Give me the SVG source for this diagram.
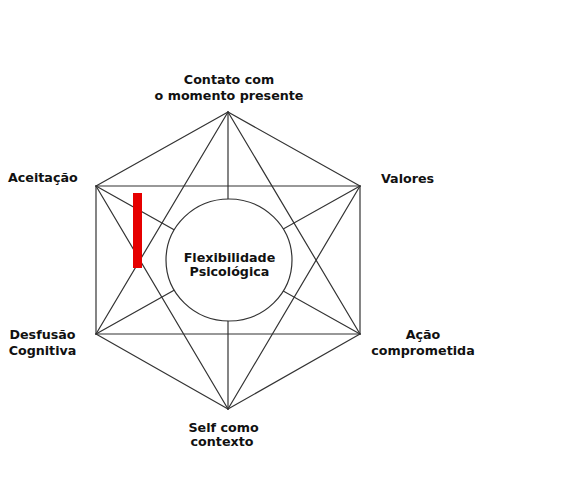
<svg xmlns="http://www.w3.org/2000/svg" width="571" height="502" viewBox="0 0 571 502">
<style>
.ln{stroke:#333;stroke-width:1.2;fill:none;stroke-linecap:round}
.lbl{font-family:"DejaVu Sans",Verdana,sans-serif;font-weight:bold;font-size:12.7px;fill:#111}
</style>
<rect width="571" height="502" fill="#fff"/>
<g id="connectors" class="ln">
<line x1="228" y1="112" x2="96" y2="186"/>
<line x1="228" y1="112" x2="360" y2="186"/>
<line x1="228" y1="112" x2="96" y2="334"/>
<line x1="228" y1="112" x2="360" y2="334"/>
<line x1="228" y1="112" x2="228" y2="409"/>
<line x1="96" y1="186" x2="360" y2="186"/>
<line x1="96" y1="186" x2="96" y2="334"/>
<line x1="96" y1="186" x2="360" y2="334"/>
<line x1="96" y1="186" x2="228" y2="409"/>
<line x1="360" y1="186" x2="96" y2="334"/>
<line x1="360" y1="186" x2="360" y2="334"/>
<line x1="360" y1="186" x2="228" y2="409"/>
<line x1="96" y1="334" x2="360" y2="334"/>
<line x1="96" y1="334" x2="228" y2="409"/>
<line x1="360" y1="334" x2="228" y2="409"/>
</g>
<g id="center">
<ellipse cx="229" cy="260" rx="63" ry="61" fill="#fff" stroke="#333" stroke-width="1.2"/>
<text class="lbl" text-anchor="middle" x="229.5" y="261.5">Flexibilidade</text>
<text class="lbl" text-anchor="middle" x="229.5" y="275.5">Psicológica</text>
</g>
<g id="marker">
<rect x="133" y="193" width="9" height="75" fill="#e60000"/>
</g>
<g id="contato">
<text class="lbl" text-anchor="middle" x="229" y="83.5">Contato com</text>
<text class="lbl" text-anchor="middle" x="229" y="99.5">o momento presente</text>
</g>
<g id="aceitacao">
<text class="lbl" x="8" y="182">Aceitação</text>
</g>
<g id="valores">
<text class="lbl" x="381" y="182.5">Valores</text>
</g>
<g id="desfusao">
<text class="lbl" text-anchor="middle" x="42.5" y="339">Desfusão</text>
<text class="lbl" text-anchor="middle" x="42.5" y="354.5">Cognitiva</text>
</g>
<g id="acao">
<text class="lbl" text-anchor="middle" x="423" y="339">Ação</text>
<text class="lbl" text-anchor="middle" x="423" y="354.5">comprometida</text>
</g>
<g id="self">
<text class="lbl" text-anchor="middle" x="223.5" y="431.5">Self como</text>
<text class="lbl" text-anchor="middle" x="222" y="446">contexto</text>
</g>
</svg>
